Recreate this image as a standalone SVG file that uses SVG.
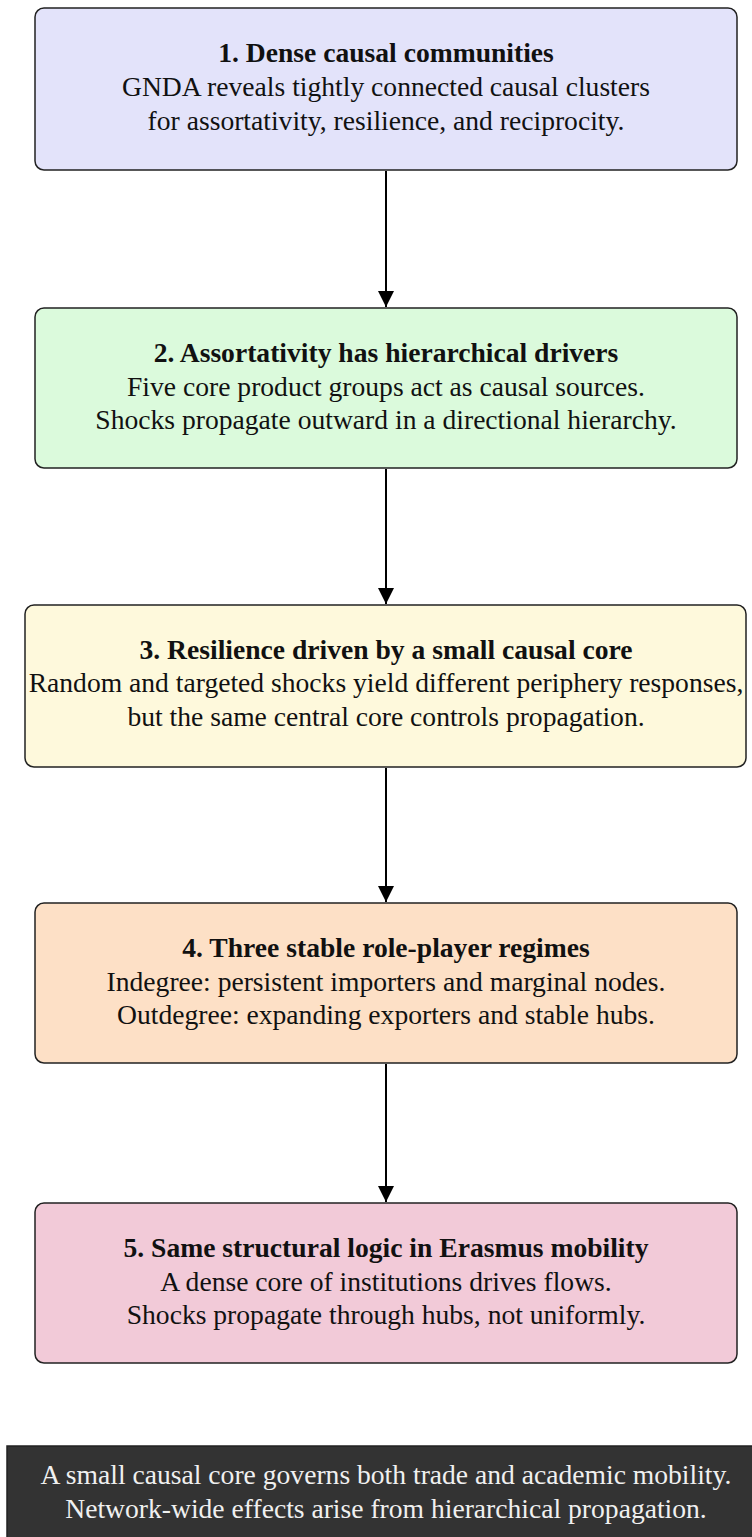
<svg xmlns="http://www.w3.org/2000/svg" width="752" height="1537" viewBox="0 0 752 1537">
<style>
.box{stroke:#222;stroke-width:1.5}
text{font-family:"Liberation Serif","Times New Roman",serif;font-size:27.6px;text-anchor:middle;fill:#111}
.t{font-weight:bold}
.w{fill:#f0f0f0}
.c{stroke:#000;stroke-width:2;fill:none}
</style>
<defs>
<marker id="ah" markerWidth="16" markerHeight="24" refX="16" refY="12" orient="auto" markerUnits="userSpaceOnUse">
<path d="M0,4 L16,12 L0,20 Z" fill="#000"/>
</marker>
</defs>
<g id="connectors">
<line class="c" x1="386" y1="171" x2="386" y2="307" marker-end="url(#ah)"/>
<line class="c" x1="386" y1="469" x2="386" y2="604" marker-end="url(#ah)"/>
<line class="c" x1="386" y1="768" x2="386" y2="902" marker-end="url(#ah)"/>
<line class="c" x1="386" y1="1064" x2="386" y2="1202" marker-end="url(#ah)"/>
</g>
<g id="n1">
<rect class="box" x="35" y="8" width="702" height="162" rx="9" fill="#e3e3fa"/>
<text class="t" x="386" y="62">1. Dense causal communities</text>
<text x="386" y="96">GNDA reveals tightly connected causal clusters</text>
<text x="386" y="129.5">for assortativity, resilience, and reciprocity.</text>
</g>
<g id="n2">
<rect class="box" x="35" y="308" width="702" height="160" rx="9" fill="#dbfadc"/>
<text class="t" x="386" y="362">2. Assortativity has hierarchical drivers</text>
<text x="386" y="395.5">Five core product groups act as causal sources.</text>
<text x="386" y="429">Shocks propagate outward in a directional hierarchy.</text>
</g>
<g id="n3">
<rect class="box" x="25" y="605" width="721" height="162" rx="9" fill="#fef9dc"/>
<text class="t" x="386" y="658.5">3. Resilience driven by a small causal core</text>
<text x="386" y="692">Random and targeted shocks yield different periphery responses,</text>
<text x="386" y="725.5">but the same central core controls propagation.</text>
</g>
<g id="n4">
<rect class="box" x="35" y="903" width="702" height="160" rx="9" fill="#fde0c6"/>
<text class="t" x="386" y="957">4. Three stable role-player regimes</text>
<text x="386" y="990.5">Indegree: persistent importers and marginal nodes.</text>
<text x="386" y="1024">Outdegree: expanding exporters and stable hubs.</text>
</g>
<g id="n5">
<rect class="box" x="35" y="1203" width="702" height="160" rx="9" fill="#f2cad8"/>
<text class="t" x="386" y="1257">5. Same structural logic in Erasmus mobility</text>
<text x="386" y="1290.5">A dense core of institutions drives flows.</text>
<text x="386" y="1324">Shocks propagate through hubs, not uniformly.</text>
</g>
<g id="summary">
<rect x="7" y="1446" width="760" height="110" fill="#333333" stroke="#222" stroke-width="1.5"/>
<text class="w" x="386" y="1483.5">A small causal core governs both trade and academic mobility.</text>
<text class="w" x="386" y="1518">Network-wide effects arise from hierarchical propagation.</text>
</g>
</svg>
